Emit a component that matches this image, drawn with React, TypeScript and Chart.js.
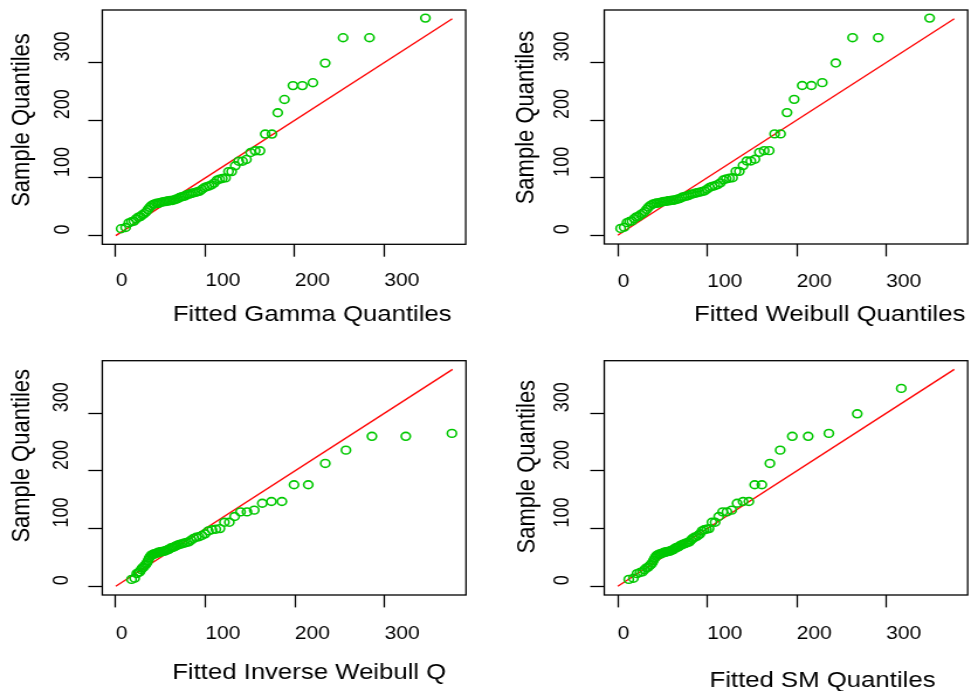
import React, { useEffect, useRef } from "react";
import { Chart, registerables } from "chart.js";

Chart.register(...registerables);

// ---------- data ----------
const sampleQuantiles = [
  12, 14, 22, 24, 25, 29, 32, 33, 36, 38,
  41, 45, 49, 52, 54, 55, 56, 56, 57, 58,
  59, 59, 60, 60, 61, 61, 62, 63, 64, 66,
  67, 68, 69, 71, 72, 73, 74, 75, 76, 77,
  80, 83, 85, 86, 88, 91, 96, 98, 99, 100,
  111, 111, 121, 129, 129, 132, 144, 147, 147, 176,
  176, 213, 236, 260, 260, 265, 299, 343, 343, 377,
];

const gammaQuantiles = [
  6.0, 11.0, 14.6, 17.6, 20.3, 22.8, 25.2, 27.4, 29.6, 31.7,
  33.8, 35.9, 37.9, 39.8, 41.8, 43.7, 45.7, 47.6, 49.5, 51.4,
  53.4, 55.3, 57.2, 59.2, 61.1, 63.1, 65.1, 67.1, 69.2, 71.2,
  73.3, 75.4, 77.6, 79.7, 82.0, 84.2, 86.5, 88.9, 91.3, 93.7,
  96.2, 98.8, 101.5, 104.3, 107.0, 109.9, 113.0, 116.0, 119.1, 122.6,
  126.0, 129.5, 133.5, 137.4, 141.6, 146.0, 150.7, 155.8, 161.2, 167.0,
  174.5, 181.0, 188.5, 198.0, 208.5, 220.3, 234.0, 254.0, 283.5, 346.0,
];

const weibullQuantiles = [
  3.2, 7.1, 10.3, 13.1, 15.8, 18.4, 20.8, 23.2, 25.5, 27.8,
  30.0, 32.3, 34.4, 36.6, 38.8, 41.0, 43.1, 45.3, 47.4, 49.6,
  51.7, 53.9, 56.1, 58.3, 60.5, 62.7, 64.9, 67.2, 69.5, 71.8,
  74.1, 76.5, 78.9, 81.4, 83.8, 86.4, 88.9, 91.5, 94.2, 96.9,
  99.7, 102.5, 105.4, 108.4, 111.5, 114.6, 117.9, 121.2, 124.7, 128.3,
  132.0, 135.9, 140.0, 144.2, 148.7, 153.3, 158.3, 163.6, 169.2, 175.3,
  181.9, 189.1, 197.1, 206.1, 216.4, 228.5, 243.6, 262.4, 291.1, 348.5,
];

// only the 66 smallest points fall inside the panel
const invWeibullQuantiles = [
  17.6, 21.1, 23.4, 25.2, 26.8, 28.3, 29.7, 31.0, 32.3, 33.6,
  34.8, 36.1, 37.3, 38.5, 39.8, 41.0, 42.2, 43.5, 44.8, 46.1,
  47.4, 48.8, 50.1, 51.5, 53.0, 54.5, 56.0, 57.6, 59.2, 60.8,
  62.6, 64.3, 66.2, 68.1, 70.1, 72.2, 74.4, 76.6, 79.0, 81.5,
  84.1, 86.9, 89.8, 92.9, 96.2, 99.7, 103.4, 107.4, 111.7, 116.3,
  121.3, 126.8, 132.7, 139.3, 146.5, 154.6, 163.6, 173.8, 185.5, 199.0,
  214.9, 233.9, 257.0, 286.0, 323.8, 375.3,
];

// only the 68 smallest points fall inside the panel
const smQuantiles = [
  12.3, 17.5, 21.5, 24.8, 27.6, 30.0, 32.1, 34.0, 35.7, 37.2,
  38.6, 40.0, 41.4, 42.7, 44.0, 45.3, 46.6, 47.9, 49.2, 50.5,
  51.8, 53.1, 54.4, 55.7, 57.0, 58.4, 59.8, 61.2, 62.6, 64.0,
  65.5, 67.0, 68.5, 70.0, 71.6, 73.2, 74.8, 76.5, 78.2, 80.0,
  81.8, 83.7, 85.6, 87.6, 89.7, 91.9, 94.2, 96.6, 99.2, 102.0,
  105.2, 108.8, 112.8, 117.2, 122.0, 127.3, 133.3, 140.0, 146.5, 153.0,
  161.0, 170.0, 181.5, 195.0, 212.8, 235.9, 267.6, 316.8,
];

const tickValues = [0, 100, 200, 300];
const tickLabels = ["0", "100", "200", "300"];
const refLine = [0, 376];
const AXIS_MIN = -15.04;
const AXIS_MAX = 391.04;

// ---------- look ----------
const QW = 489; // quadrant width on screen
const CW = 418; // canvas drawing width (stretched horizontally to QW)
const S = QW / CW;
const FONT = "'Liberation Sans', Arial, Helvetica, sans-serif";
const GREEN = "#00C800";
const RED = "#FF0000";
const X_TICK_LEN = 12.4;
const Y_TICK_LEN = 12;
const TICK_FONT = 18;
const TITLE_FONT = 22;

type Spec = {
  qx: number; qy: number; h: number;
  fitted: number[];
  xTitle: string;
  area: { l: number; r: number; t: number; b: number };
  yLabLeft: number; xLabBase: number;
  xT: [number, number]; yT: [number, number];
};

const panels: Spec[] = [
  { qx: 0, qy: 0, h: 345, fitted: gammaQuantiles, xTitle: "Fitted Gamma Quantiles",
    area: { l: 102.3, r: 465.7, t: 10, b: 244.3 }, yLabLeft: 52.7, xLabBase: 287.3,
    xT: [312.2, 320.7], yT: [22, 120] },
  { qx: 489, qy: 0, h: 345, fitted: weibullQuantiles, xTitle: "Fitted Weibull Quantiles",
    area: { l: 115.3, r: 478.7, t: 10, b: 244 }, yLabLeft: 63.7, xLabBase: 288.3,
    xT: [340.7, 320.7], yT: [37.7, 117.5] },
  { qx: 0, qy: 345, h: 346, fitted: invWeibullQuantiles, xTitle: "Fitted Inverse Weibull Q",
    area: { l: 102.3, r: 466, t: 15.7, b: 250 }, yLabLeft: 51, xLabBase: 295,
    xT: [309.2, 334], yT: [21.7, 110.8] },
  { qx: 489, qy: 345, h: 346, fitted: smQuantiles, xTitle: "Fitted SM Quantiles",
    area: { l: 115.3, r: 478.7, t: 15.7, b: 250 }, yLabLeft: 62.7, xLabBase: 295,
    xT: [333.5, 341.7], yT: [38, 121.7] },
];

const framePlugin = {
  id: "frame",
  afterDraw(chart: any, _args: any, opts: any) {
    const { ctx, chartArea: a } = chart;
    ctx.save();
    ctx.strokeStyle = "#000";
    ctx.lineWidth = 1.3;
    ctx.strokeRect(a.left, a.top, a.right - a.left, a.bottom - a.top);
    ctx.fillStyle = "#000";
    ctx.font = `${TITLE_FONT}px ${FONT}`;
    ctx.textAlign = "center";
    ctx.textBaseline = "alphabetic";
    ctx.fillText(opts.xTitle, opts.xTitleX, opts.xTitleY);
    ctx.translate(opts.yTitleX, opts.yTitleY);
    ctx.rotate(-Math.PI / 2);
    ctx.textBaseline = "middle";
    ctx.fillText(opts.yTitle, 0, 0);
    ctx.restore();
  },
};

function makeConfig(p: Spec): any {
  const left = p.area.l / S;
  const right = p.area.r / S;
  const yAxisLeft = p.yLabLeft / S;
  const xTickPad = p.xLabBase - p.area.b - X_TICK_LEN - 16.8;
  const points = p.fitted.map((x, i) => ({ x, y: sampleQuantiles[i] }));
  const line = refLine.map((v) => ({ x: v, y: v }));
  const zeroPad = (s: any) => {
    s.paddingLeft = 0; s.paddingRight = 0; s.paddingTop = 0; s.paddingBottom = 0;
  };
  return {
    type: "scatter",
    data: {
      datasets: [
        {
          data: points, showLine: false, pointStyle: "circle", pointRadius: 3.9,
          pointBorderWidth: 1.6, pointBorderColor: GREEN, pointBackgroundColor: "rgba(0,0,0,0)",
        },
        {
          data: line, showLine: true, borderColor: RED, borderWidth: 1.3, pointRadius: 0,
        },
      ],
    },
    options: {
      responsive: false, animation: false, devicePixelRatio: 1, events: [],
      layout: { autoPadding: false, padding: { left: yAxisLeft, right: CW - right, top: p.area.t, bottom: 0 } },
      plugins: {
        legend: { display: false }, tooltip: { enabled: false },
        frame: {
          xTitle: p.xTitle, xTitleX: p.xT[0] / S, xTitleY: p.xT[1],
          yTitle: "Sample Quantiles", yTitleX: p.yT[0] / S, yTitleY: p.yT[1],
        },
      },
      scales: {
        x: {
          type: "linear", position: "bottom", min: AXIS_MIN, max: AXIS_MAX,
          afterBuildTicks: (s: any) => { s.ticks = tickValues.map((v) => ({ value: v })); },
          afterFit: (s: any) => { s.height = p.h - p.area.b; zeroPad(s); },
          border: { display: false },
          grid: { drawOnChartArea: false, drawTicks: true, tickLength: X_TICK_LEN, tickColor: "#000", tickWidth: 1.3 },
          ticks: {
            autoSkip: false, align: "start", padding: xTickPad, color: "#000",
            font: { family: FONT, size: TICK_FONT }, maxRotation: 0, minRotation: 0,
            callback: (_v: any, i: number) => tickLabels[i],
          },
        },
        y: {
          type: "linear", position: "left", min: AXIS_MIN, max: AXIS_MAX,
          afterBuildTicks: (s: any) => { s.ticks = tickValues.map((v) => ({ value: v })); },
          afterFit: (s: any) => { s.width = left - yAxisLeft; zeroPad(s); },
          border: { display: false },
          grid: { drawOnChartArea: false, drawTicks: true, tickLength: Y_TICK_LEN, tickColor: "#000", tickWidth: 1.3 },
          ticks: {
            autoSkip: false, align: "start", crossAlign: "far", minRotation: 90, maxRotation: 90, labelOffset: -1,
            color: "#000", font: { family: FONT, size: TICK_FONT },
            callback: (_v: any, i: number) => tickLabels[i],
          },
        },
      },
    },
    plugins: [framePlugin],
  };
}

function Panel({ spec }: { spec: Spec }) {
  const ref = useRef<HTMLCanvasElement>(null);
  useEffect(() => {
    if (!ref.current) return;
    const chart = new Chart(ref.current, makeConfig(spec));
    return () => chart.destroy();
  }, [spec]);
  return (
    <div style={{ position: "absolute", left: spec.qx, top: spec.qy, width: QW, height: spec.h }}>
      <canvas
        ref={ref}
        width={CW}
        height={spec.h}
        style={{ width: `${QW}px`, height: `${spec.h}px`, display: "block" }}
      />
    </div>
  );
}

export default function App() {
  return (
    <div style={{ position: "absolute", left: 0, top: 0, width: 978, height: 691, background: "#fff", overflow: "hidden" }}>
      {panels.map((p, i) => (
        <Panel key={i} spec={p} />
      ))}
    </div>
  );
}
